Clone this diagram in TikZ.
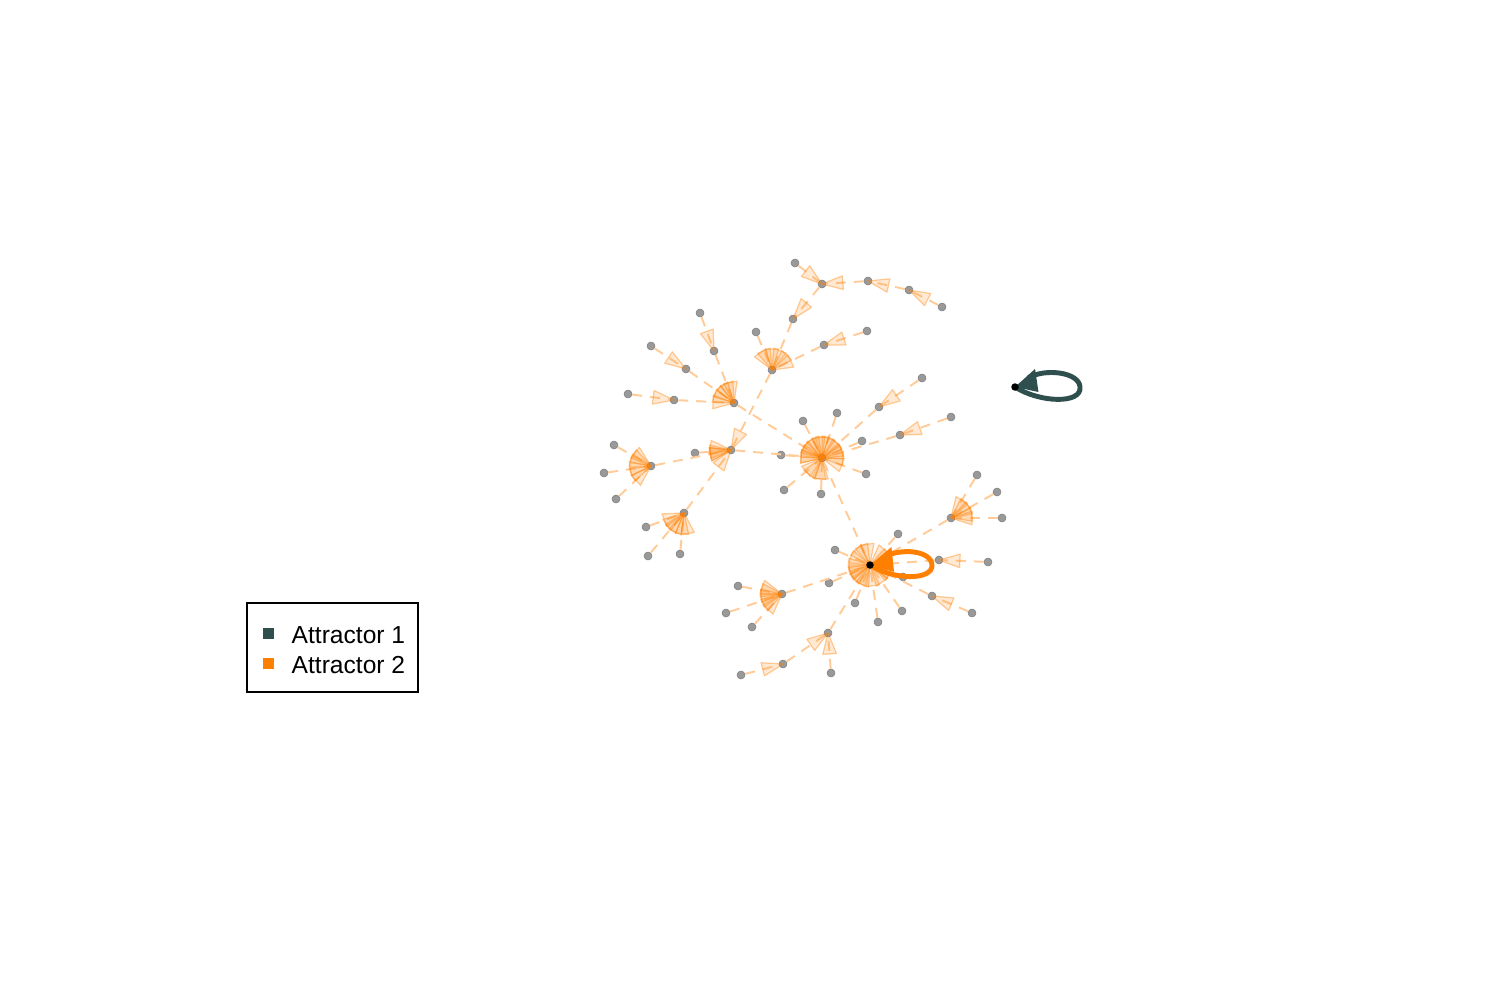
\documentclass[tikz,border=0pt]{standalone}
\usepackage{fontspec}
\setmainfont{Liberation Sans}
\usetikzlibrary{arrows.meta,calc,positioning}
\definecolor{attrone}{RGB}{47,79,79}
\definecolor{attrtwo}{RGB}{255,127,0}
\pgfdeclarelayer{fg}
\pgfdeclarelayer{top}
\pgfsetlayers{main,fg,top}
\tikzset{
	state/.style={circle, fill=black!40, draw=black!50, line width=0.3pt, inner sep=0pt, minimum size=0.16cm},
	attractor/.style={circle, fill=black, inner sep=0pt, minimum size=0.15cm},
	transition/.style={draw=orange!40, line width=1.1pt, dash pattern=on 0.2cm off 0.16cm},
	head/.style={draw=orange, fill=orange, draw opacity=0.38, fill opacity=0.17, line width=0.7pt, line join=round},
	cycleloop/.style={line width=2.8pt},
	cyclehead/.style={line join=miter},
	legendbox/.style={draw=black, line width=1.1pt},
	key/.style={inner sep=0pt, minimum size=0.22cm},
	keytext/.style={font=\fontsize{14}{16}\selectfont, inner sep=0pt},
}
% dashed transition with its arrowhead at the target
\newcommand{\stateedge}[2]{%
	\draw[transition] (#1) -- (#2);
	\filldraw[head] let \p1=($(#1)-(#2)$), \n1={atan2(\y1,\x1)} in
	(#2.center) -- +({\n1+18}:0.44cm) -- +({\n1-18}:0.44cm) -- cycle;}
% extra overlapping arrowheads round a state
\newcommand{\fan}[2]{%
	\foreach \a in {#2}{\filldraw[head] (#1.center) -- +({\a+18}:0.44cm) -- +({\a-18}:0.44cm) -- cycle;}}

\begin{document}
\begin{tikzpicture}[x=0.02cm, y=-0.02cm]
	
	\path[fill=white, use as bounding box] (0,0) rectangle (1500,1000);
	
	% States
	\foreach \n/\x/\y in {
		t1/942/307, t2/909/290, t3/868/281, t4/822/284, t5/795/263, t6/793/319,
		m2/867/331, m1/824/345, l1/756/332, h1/772/370,
		a0/700/313, a1/714/351, b0/651/346, b1/686/369, c0/628/394, c1/674/400, h2/734/403,
		e1/614/445, e2/604/473, e3/616/499, h4/651/466, d1/695/453, h3/731/450,
		f1/646/527, f2/648/556, f3/680/554, h5/684/513,
		g1/781/455, g2/803/421, g3/837/413, g4/784/490, g5/821/494, g6/866/474, g7/862/441,
		k0/922/378, k1/879/407, n0/951/417, n1/900/435, hc/822/458,
		u1/977/475, u2/997/492, u3/1002/518, hu/951/518,
		p1/898/534, p2/835/550, p3/829/583, p4/855/603, p5/878/622, p6/902/611, p7/903/577,
		r0/972/613, r1/932/596, s0/988/562, s1/939/560,
		y1/738/586, y2/726/613, y3/752/627, hq/782/594,
		x0/741/675, x1/783/664, x2/831/673, hw/828/633}
	\node[state] (\n) at (\x,\y) {};
	
	\begin{pgfonlayer}{top}
		\node[attractor] (A1) at (1015,387) {};
		\node[attractor] (A2) at (870,565) {};
	\end{pgfonlayer}
	
	\begin{pgfonlayer}{fg}
		% Transitions
		\foreach \s/\t in {
			t1/t2, t2/t3, t3/t4, t5/t4, t4/t6, t6/h1, m2/m1, m1/h1, l1/h1, h1/h3,
			a0/a1, a1/h2, b0/b1, b1/h2, c0/c1, c1/h2, h2/hc,
			e1/h4, e2/h4, e3/h4, h4/h3, d1/h3, f1/h5, f2/h5, f3/h5, h5/h3, h3/hc,
			g1/hc, g2/hc, g3/hc, g4/hc, g5/hc, g6/hc, g7/hc,
			k0/k1, k1/hc, n0/n1, n1/hc, hc/A2,
			u1/hu, u2/hu, u3/hu, hu/A2,
			p1/A2, p2/A2, p3/A2, p4/A2, p5/A2, p6/A2, p7/A2,
			r0/r1, r1/A2, s0/s1, s1/A2,
			y1/hq, y2/hq, y3/hq, hq/A2,
			x0/x1, x1/hw, x2/hw, hw/A2}
		\stateedge{\s}{\t};
		
		\fan{h1}{45,90,125}
		\fan{h2}{100,125,160}
		\fan{h3}{172,192}
		\fan{h4}{140,165,205}
		\fan{h5}{215,245,280}
		\fan{hc}{100,132,160,55,90,-2,232,262}
		\fan{hu}{10,45}
		\fan{hq}{160,185,212}
		\fan{A2}{98,135,180,222}
		
		% Attractor cycles
		\draw[cycleloop, attrone] (A1.center) .. controls (1040,403) and (1082,404) .. (1080,387)
		.. controls (1079,372) and (1045,368) .. (1028,378);
		\fill[cyclehead, attrone] (A1.center) -- +(42:0.54cm) -- +(-12:0.48cm) -- cycle;
		\draw[cycleloop, attrtwo] (A2.center) .. controls (895,581) and (933,580) .. (932,565)
		.. controls (931,550) and (900,548) .. (884,557);
		\fill[cyclehead, attrtwo] (A2.center) -- +(40:0.56cm) -- +(-16:0.5cm) -- cycle;
	\end{pgfonlayer}
	
	% Legend
	\draw[legendbox] (247,603) rectangle (418,692);
	\node[key, fill=attrone] (key1) at (268,633) {};
	\node[key, fill=attrtwo] (key2) at (268,663) {};
	\node[keytext, right=0.35cm of key1, yshift=-0.05cm] (lab1) {Attractor 1};
	\node[keytext, right=0.35cm of key2, yshift=-0.05cm] (lab2) {Attractor 2};
	
\end{tikzpicture}
\end{document}
